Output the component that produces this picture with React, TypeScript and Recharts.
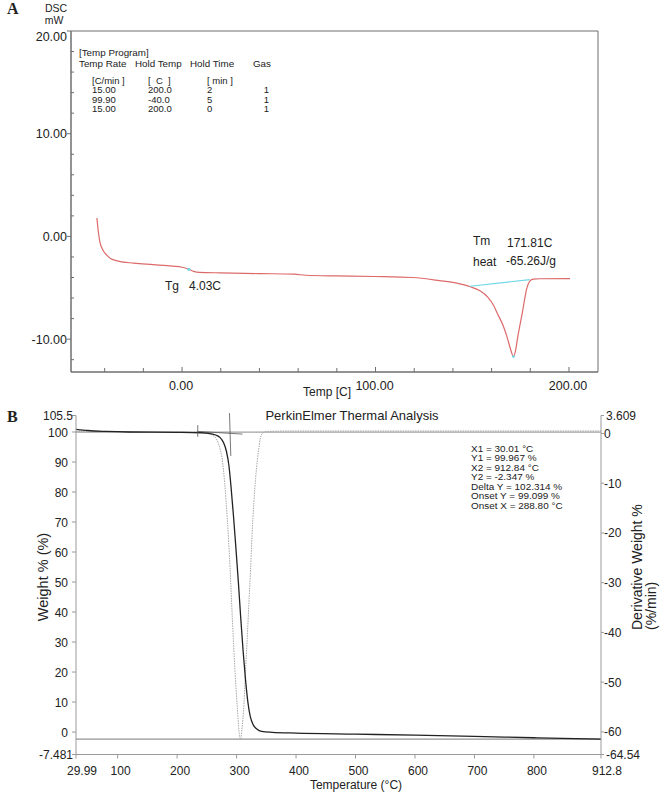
import { LineChart, Line, XAxis, YAxis, ReferenceLine, ReferenceArea, ReferenceDot } from 'recharts';

const FONT = '"Liberation Sans", Arial, Helvetica, sans-serif';
const SERIF = '"Liberation Serif", "Times New Roman", serif';

// ---- panel A: DSC (temp C, heat flow mW) ----
const dscCurve: [number, number][] = [
  [-44, 1.8], [-43.3, 0.5], [-42.5, -0.5], [-41, -1.3], [-39, -1.8], [-37, -2.15],
  [-33, -2.4], [-25, -2.6], [-15, -2.75], [-5, -2.9], [0, -3.0], [3.5, -3.2],
  [6, -3.4], [9, -3.5], [20, -3.55], [40, -3.62], [58, -3.68], [64, -3.78],
  [80, -3.85], [100, -3.9], [119, -4.0], [133, -4.3], [142, -4.55], [149, -4.9],
  [154, -5.3], [158, -5.9], [161, -6.7], [163, -7.5], [166, -8.7], [168, -9.8],
  [170, -11.1], [171.3, -11.7], [172.5, -11.0], [173.5, -9.8], [175, -8.3],
  [176, -7.3], [177, -6.2], [178, -5.2], [179, -4.6], [180, -4.3], [181.5, -4.15],
  [185, -4.12], [200.5, -4.1],
];
const dscBaseline: [number, number][] = [[148.8, -4.85], [179.8, -4.2]];
const dscXTicks = [-40, -20, 0, 20, 40, 60, 80, 100, 120, 140, 160, 180, 200];
const dscXLabels = [0, 100, 200];
const dscYTicks = [-12, -10, -8, -6, -4, -2, 0, 2, 4, 6, 8, 10, 12, 14, 16, 18, 20];
const dscYLabels = [-10, 0, 10, 20];

const programHead = ['Temp Rate', 'Hold Temp', 'Hold Time', 'Gas'];
const programUnits = ['[C/min ]', '[  C  ]', '[ min ]'];
const programRows = [
  ['15.00', '200.0', '2', '1'],
  ['99.90', '-40.0', '5', '1'],
  ['15.00', '200.0', '0', '1'],
];

// ---- panel B: TGA (temp C, weight %, derivative %/min) ----
const tgaWeight: [number, number][] = [
  [29.99, 100.9], [50, 100.5], [80, 100.2], [120, 100.0], [200, 99.9], [240, 99.75],
  [255, 99.5], [265, 99.0], [272, 98.2], [278, 96.5], [283, 93.5], [287, 89],
  [291, 81], [295, 71.5], [299, 61], [303, 50], [307, 38], [311, 27], [315, 17.5],
  [319, 10], [323, 5.2], [328, 2.4], [334, 1.0], [342, 0.2], [360, -0.1],
  [400, -0.35], [500, -0.7], [600, -1.05], [700, -1.45], [800, -1.9], [912.8, -2.35],
];
const tgaDeriv: [number, number][] = [
  [29.99, 0.4], [100, 0.3], [200, 0.3], [240, 0.2], [253, 0.0], [260, -0.4],
  [267, -1.3], [272, -3], [276, -5.3], [280, -10], [284.5, -17.4], [289, -27],
  [293, -37.5], [297, -47], [301.5, -55.6], [304, -59.8], [306.5, -61.5],
  [309, -59.5], [312.5, -54.2], [315, -48], [318, -40.9], [321, -33.5],
  [323.5, -27.4], [326, -20.5], [329, -14], [332, -9], [335, -5.3], [338, -2.5],
  [340, -0.9], [344, 0.1], [348.5, 0.4], [400, 0.5], [600, 0.5], [912.8, 0.5],
];
const tgaXTicks = [29.99, 100, 200, 300, 400, 500, 600, 700, 800, 912.8];
const tgaWeightTicks = [-7.481, 0, 10, 20, 30, 40, 50, 60, 70, 80, 90, 100, 105.5];
const tgaDerivTicks = [-64.54, -60, -50, -40, -30, -20, -10, 0, 3.609];
const tgaSummary = [
  'X1 = 30.01 °C',
  'Y1 = 99.967 %',
  'X2 = 912.84 °C',
  'Y2 = -2.347 %',
  'Delta Y = 102.314 %',
  'Onset Y = 99.099 %',
  'Onset X = 288.80 °C',
];
const onsetBase: [number, number][] = [[234, 100.2], [310, 99.3]];
const onsetSteep: [number, number][] = [[288.1, 106.3], [290.3, 92]];
const onsetMark: [number, number][] = [[234.7, 102.3], [234.7, 98.4]];

const dscData = dscCurve.map(([t, v]) => ({ t, v }));
const weightData = tgaWeight.map(([t, w]) => ({ t, w }));
const derivData = tgaDeriv.map(([t, d]) => ({ t, d }));
const seg = (s: [number, number][]) => s.map(([x, y]) => ({ x, y }));

const GRAY_A = '#6f6f6f';
const GRAY_B = '#9a9a9a';

function DscXTick({ x, y, payload }: any) {
  const v = payload.value;
  const major = dscXLabels.includes(v);
  return (
    <g>
      <line x1={x} x2={x} y1={y} y2={y - (major ? 5 : 4)} stroke={GRAY_A} />
      {major && (
        <text x={x - 1} y={y + 18} textAnchor="middle" fontSize={12.5} fill="#222" fontFamily={FONT}>
          {v.toFixed(2)}
        </text>
      )}
    </g>
  );
}

function DscYTick({ x, y, payload }: any) {
  const v = payload.value;
  const major = dscYLabels.includes(v);
  if (!major) return <line x1={x} x2={x + 3} y1={y} y2={y} stroke={GRAY_A} />;
  return (
    <g>
      <line x1={x - 4} x2={x} y1={y} y2={y} stroke={GRAY_A} />
      <text x={x - 4} y={y + 4.5 + (v === 20 ? 5 : 0)} textAnchor="end" fontSize={12.5} fill="#222" fontFamily={FONT}>
        {v.toFixed(2)}
      </text>
    </g>
  );
}

function TgaXTick({ x, y, payload }: any) {
  const v = payload.value;
  const end = v === 29.99 || v === 912.8;
  return (
    <g>
      <line x1={x} x2={x} y1={y} y2={y + 4} stroke={GRAY_B} />
      <text x={x + (end ? 6 : 3)} y={y + 20} textAnchor="middle" fontSize={12} fill="#222" fontFamily={FONT}>
        {String(v)}
      </text>
    </g>
  );
}

function TgaLeftTick({ x, y, payload }: any) {
  const v = payload.value;
  const end = v === -7.481 || v === 105.5;
  return (
    <g>
      <line x1={x - 4} x2={x} y1={y} y2={y} stroke={GRAY_B} />
      <text x={x - (end ? 3 : 8)} y={y + 4.5} textAnchor="end" fontSize={12} fill="#222" fontFamily={FONT}>
        {String(v)}
      </text>
    </g>
  );
}

function TgaRightTick({ x, y, payload }: any) {
  const v = payload.value;
  const end = v === -64.54 || v === 3.609;
  return (
    <g>
      <line x1={x} x2={x + 3} y1={y} y2={y} stroke={GRAY_B} />
      <text x={x + (end ? 5 : 3)} y={y + 4.5} textAnchor="start" fontSize={12} fill="#222" fontFamily={FONT}>
        {String(v)}
      </text>
    </g>
  );
}

// short, slightly widened text for the tightly packed instrument tables
function Tight({ x, y, size, sx, anchor, children }: any) {
  return (
    <text transform={`translate(${x},${y}) scale(${sx},1)`} fontSize={size} textAnchor={anchor || 'start'} xmlSpace="preserve">
      {children}
    </text>
  );
}

const colX = [79, 135, 190, 253];
const valX = [92, 148, 207];

export default function App() {
  return (
    <div style={{ position: 'absolute', left: 0, top: 0, width: 669, height: 795, background: '#fff', fontFamily: FONT }}>
      <div style={{ position: 'absolute', left: 0, top: 0 }}>
        <LineChart width={669} height={400} data={dscData} margin={{ top: 31, right: 71, bottom: 0, left: 0 }}>
          <XAxis
            dataKey="t"
            type="number"
            domain={[-57.4, 215]}
            ticks={dscXTicks}
            interval={0}
            allowDataOverflow
            height={28}
            tickSize={0}
            tickMargin={0}
            tickLine={false}
            axisLine={{ stroke: GRAY_A }}
            tick={(p: any) => <DscXTick {...p} />}
          />
          <YAxis
            type="number"
            domain={[-13.2, 20]}
            ticks={dscYTicks}
            interval={0}
            allowDataOverflow
            width={71}
            tickSize={0}
            tickMargin={0}
            tickLine={false}
            axisLine={{ stroke: GRAY_A }}
            tick={(p: any) => <DscYTick {...p} />}
          />
          <ReferenceArea x1={-57.4} x2={215} y1={-13.2} y2={20} fill="none" fillOpacity={0} stroke={GRAY_A} strokeWidth={1} />
          <Line type="monotone" dataKey="v" stroke="#dc6a6a" strokeWidth={1.2} dot={false} isAnimationActive={false} />
          <ReferenceLine segment={seg(dscBaseline)} stroke="#6fd6e6" strokeWidth={1.2} />
          <ReferenceDot x={3.5} y={-3.2} r={1.6} fill="#6fd6e6" stroke="none" />
          <ReferenceDot x={171.3} y={-11.7} r={1.4} fill="#6fd6e6" stroke="none" />
        </LineChart>
      </div>

      <div style={{ position: 'absolute', left: 0, top: 400 }}>
        <LineChart width={669} height={395} margin={{ top: 15.5, right: 0, bottom: 0, left: 0 }}>
          <XAxis
            dataKey="t"
            type="number"
            domain={[29.99, 912.8]}
            ticks={tgaXTicks}
            interval={0}
            allowDataOverflow
            height={40.5}
            tickSize={0}
            tickMargin={0}
            tickLine={false}
            axisLine={{ stroke: GRAY_B }}
            tick={(p: any) => <TgaXTick {...p} />}
          />
          <YAxis
            yAxisId="left"
            type="number"
            domain={[-7.481, 105.5]}
            ticks={tgaWeightTicks}
            interval={0}
            allowDataOverflow
            width={76}
            tickSize={0}
            tickMargin={0}
            tickLine={false}
            axisLine={{ stroke: GRAY_B }}
            tick={(p: any) => <TgaLeftTick {...p} />}
          />
          <YAxis
            yAxisId="right"
            orientation="right"
            type="number"
            domain={[-64.54, 3.609]}
            ticks={tgaDerivTicks}
            interval={0}
            allowDataOverflow
            width={68}
            tickSize={0}
            tickMargin={0}
            tickLine={false}
            axisLine={{ stroke: GRAY_B }}
            tick={(p: any) => <TgaRightTick {...p} />}
          />
          <ReferenceLine yAxisId="left" y={-2.347} stroke="#7a7a7a" strokeWidth={1} />
          <ReferenceLine yAxisId="left" y={99.967} stroke="#8a8a8a" strokeWidth={1} />
          <Line
            yAxisId="right"
            data={derivData}
            type="monotone"
            dataKey="d"
            stroke="#a8a8a8"
            strokeWidth={1}
            strokeDasharray="1.5 1"
            dot={false}
            isAnimationActive={false}
          />
          <Line
            yAxisId="left"
            data={weightData}
            type="monotone"
            dataKey="w"
            stroke="#222"
            strokeWidth={1.3}
            dot={false}
            isAnimationActive={false}
          />
          <ReferenceLine yAxisId="left" segment={seg(onsetBase)} stroke="#555" strokeWidth={0.8} ifOverflow="visible" />
          <ReferenceLine yAxisId="left" segment={seg(onsetSteep)} stroke="#555" strokeWidth={0.8} ifOverflow="visible" />
          <ReferenceLine yAxisId="left" segment={seg(onsetMark)} stroke="#555" strokeWidth={0.8} ifOverflow="visible" />
        </LineChart>
      </div>

      <svg width={669} height={795} style={{ position: 'absolute', left: 0, top: 0, pointerEvents: 'none' }} fontFamily={FONT} fill="#222">
        {/* panel A labels */}
        <text x={7} y={14} fontFamily={SERIF} fontWeight="bold" fontSize={16}>A</text>
        <text x={56} y={12} fontSize={10.5} textAnchor="middle">DSC</text>
        <text x={54} y={24} fontSize={10.5} textAnchor="middle">mW</text>
        <text x={79} y={55.5} fontSize={9.8}>[Temp Program]</text>
        {programHead.map((h, i) => (
          <text key={h} x={colX[i]} y={67} fontSize={9.8}>{h}</text>
        ))}
        {programUnits.map((u, i) => (
          <Tight key={u} x={valX[i]} y={83.5} size={8.5} sx={1.12}>{u}</Tight>
        ))}
        {programRows.map((row, r) => (
          <g key={r}>
            {row.slice(0, 3).map((c, i) => (
              <Tight key={i} x={valX[i]} y={93 + r * 9.5} size={8.5} sx={1.12}>{c}</Tight>
            ))}
            <Tight x={269} y={93 + r * 9.5} size={8.5} sx={1.12} anchor="end">{row[3]}</Tight>
          </g>
        ))}
        <text x={165} y={290} fontSize={12}>Tg</text>
        <text x={189} y={290} fontSize={12}>4.03C</text>
        <text x={473} y={245} fontSize={12}>Tm</text>
        <text x={507} y={247} fontSize={12}>171.81C</text>
        <text x={473} y={266} fontSize={12}>heat</text>
        <text x={506} y={265} fontSize={12}>-65.26J/g</text>
        <text x={303} y={396} fontSize={12}>Temp  [C]</text>

        {/* panel B labels */}
        <text x={7} y={422} fontFamily={SERIF} fontWeight="bold" fontSize={16}>B</text>
        <text x={352} y={420} fontSize={13} textAnchor="middle">PerkinElmer Thermal Analysis</text>
        {tgaSummary.map((s, i) => (
          <Tight key={s} x={471} y={451.5 + i * 9.5} size={8.5} sx={1.17}>{s}</Tight>
        ))}
        <text transform="translate(48,577) rotate(-90)" fontSize={14.5} textAnchor="middle">Weight % (%)</text>
        <text transform="translate(642,630) rotate(-90)" fontSize={14} textAnchor="start">Derivative Weight %</text>
        <text transform="translate(656,630) rotate(-90)" fontSize={14} textAnchor="start">(%/min)</text>
        <text x={356} y={789} fontSize={12} textAnchor="middle">Temperature (°C)</text>
      </svg>
    </div>
  );
}
